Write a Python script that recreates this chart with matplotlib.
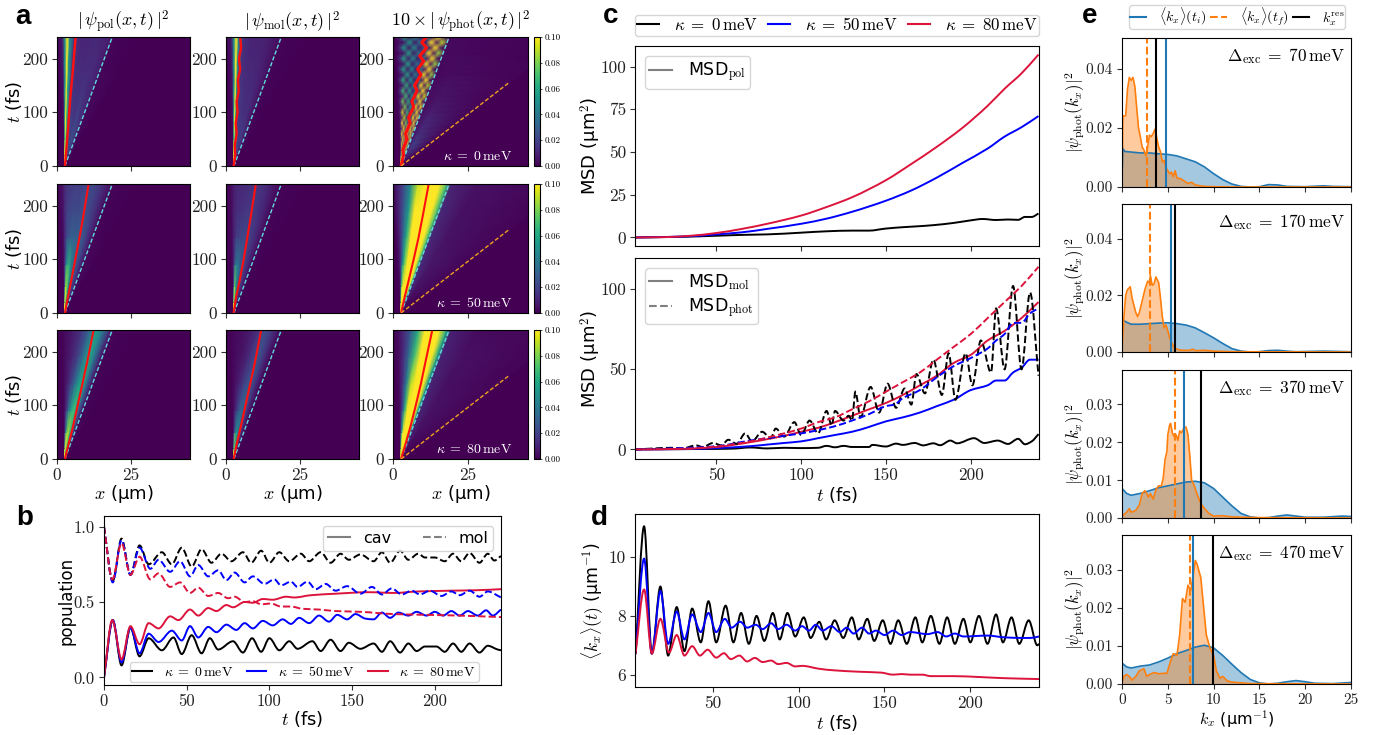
import numpy as np
import matplotlib
matplotlib.use('Agg')
import matplotlib.pyplot as plt
from matplotlib.path import Path
from matplotlib.patches import PathPatch
from matplotlib.lines import Line2D
import logging
logging.getLogger('matplotlib').setLevel(logging.ERROR)

plt.rcParams['mathtext.fontset'] = 'cm'
plt.rcParams['font.family'] = ['DejaVu Sans']
W, H = 1380, 735

# ---------- panel a: heat maps in thousandths, rows=time, columns=fan position ----------
FAN_T = [0, 20, 50, 90, 140, 190, 240]
FAN_U = [-.2, -.06, 0, .05, .1, .2, .35, .5, .65, .8, .95, 1.05, 1.6, 3.5]
X0 = 2.7
CYAN_END = 18.7
TIME_MAX = 240
POL_0 = [[0, 40, 100, 100, 100, 90, 70, 40, 20, 10, 5, 3, 0, 0],
         [0, 10, 90, 100, 100, 60, 30, 25, 20, 15, 12, 5, 0, 0],
         [0, 3, 70, 100, 70, 25, 25, 20, 25, 20, 15, 3, 0, 0],
         [0, 3, 60, 100, 70, 20, 18, 15, 20, 15, 12, 2, 0, 0],
         [0, 4, 50, 100, 60, 18, 14, 14, 15, 12, 10, 2, 0, 0],
         [0, 5, 50, 100, 55, 15, 12, 12, 12, 12, 8, 1, 0, 0],
         [0, 6, 50, 100, 50, 15, 10, 10, 12, 10, 8, 1, 0, 0]]
MOL_0 = [[0, 40, 100, 100, 100, 90, 70, 40, 20, 10, 5, 3, 0, 0],
         [0, 10, 90, 100, 100, 55, 30, 22, 16, 12, 8, 3, 0, 0],
         [0, 3, 70, 100, 65, 22, 20, 18, 18, 14, 8, 2, 0, 0],
         [0, 3, 60, 100, 60, 18, 16, 14, 14, 10, 6, 1, 0, 0],
         [0, 4, 50, 100, 50, 16, 13, 12, 12, 9, 5, 1, 0, 0],
         [0, 5, 50, 100, 45, 14, 11, 11, 10, 8, 4, 1, 0, 0],
         [0, 6, 50, 100, 45, 14, 10, 9, 9, 7, 4, 1, 0, 0]]
POL_50 = [[0, 30, 100, 100, 100, 90, 70, 40, 20, 10, 5, 2, 0, 0],
          [0, 5, 60, 100, 100, 80, 50, 30, 20, 15, 8, 2, 0, 0],
          [0, 3, 30, 70, 90, 80, 50, 30, 22, 15, 8, 2, 0, 0],
          [0, 3, 15, 30, 55, 65, 45, 30, 25, 15, 7, 2, 0, 0],
          [0, 3, 12, 20, 25, 30, 30, 30, 25, 15, 6, 1, 0, 0],
          [0, 4, 12, 18, 20, 22, 22, 25, 20, 14, 5, 1, 0, 0],
          [0, 4, 12, 15, 16, 18, 18, 22, 20, 13, 5, 1, 0, 0]]
MOL_50 = [[0, 30, 100, 100, 100, 90, 70, 40, 20, 10, 5, 2, 0, 0],
          [0, 5, 60, 100, 100, 70, 40, 25, 16, 10, 5, 1, 0, 0],
          [0, 3, 30, 70, 80, 55, 35, 22, 16, 10, 5, 1, 0, 0],
          [0, 3, 14, 25, 40, 40, 30, 22, 16, 10, 4, 1, 0, 0],
          [0, 3, 10, 14, 18, 20, 22, 20, 16, 10, 4, 1, 0, 0],
          [0, 3, 9, 11, 13, 14, 16, 17, 14, 9, 3, 1, 0, 0],
          [0, 3, 8, 10, 11, 11, 13, 15, 13, 8, 3, 1, 0, 0]]
PHOT_50 = [[0, 30, 100, 100, 100, 100, 100, 80, 60, 40, 25, 8, 1, 0],
           [0, 10, 60, 100, 100, 100, 100, 100, 100, 90, 50, 10, 2, 0],
           [0, 8, 30, 60, 90, 100, 120, 120, 120, 110, 70, 12, 5, 1],
           [0, 8, 20, 35, 55, 80, 120, 140, 140, 130, 70, 12, 6, 1],
           [0, 8, 18, 28, 40, 65, 110, 150, 150, 140, 70, 11, 5, 1],
           [0, 10, 18, 25, 35, 55, 100, 160, 170, 150, 70, 11, 4, 1],
           [0, 10, 16, 22, 30, 48, 90, 160, 180, 150, 70, 10, 4, 1]]
POL_80 = [[0, 30, 100, 100, 100, 90, 70, 40, 20, 10, 5, 2, 0, 0],
          [0, 3, 40, 80, 100, 100, 80, 60, 40, 25, 10, 3, 0, 0],
          [0, 1, 12, 30, 50, 80, 90, 70, 45, 25, 10, 2, 0, 0],
          [0, 1, 5, 10, 18, 40, 60, 70, 50, 25, 8, 1, 0, 0],
          [0, 1, 4, 7, 10, 18, 35, 55, 60, 30, 8, 1, 0, 0],
          [0, 1, 3, 5, 6, 10, 20, 40, 60, 35, 8, 1, 0, 0],
          [0, 1, 3, 4, 5, 8, 15, 30, 55, 40, 12, 1, 0, 0]]
MOL_80 = [[0, 30, 100, 100, 100, 90, 70, 40, 20, 10, 5, 2, 0, 0],
          [0, 3, 40, 75, 90, 80, 55, 35, 20, 12, 5, 1, 0, 0],
          [0, 1, 10, 22, 35, 50, 50, 35, 20, 10, 4, 1, 0, 0],
          [0, 1, 4, 7, 12, 22, 32, 32, 20, 10, 3, 0, 0, 0],
          [0, 1, 3, 5, 6, 10, 18, 26, 24, 12, 3, 0, 0, 0],
          [0, 1, 2, 3, 4, 5, 10, 18, 25, 14, 3, 0, 0, 0],
          [0, 1, 2, 3, 3, 4, 7, 13, 24, 16, 4, 0, 0, 0]]
PHOT_80 = [[0, 30, 100, 100, 100, 100, 100, 80, 60, 40, 25, 8, 1, 0],
           [0, 5, 50, 90, 100, 110, 110, 100, 90, 70, 40, 10, 2, 0],
           [0, 3, 20, 40, 65, 110, 130, 130, 120, 100, 50, 10, 4, 1],
           [0, 3, 10, 18, 30, 65, 120, 150, 150, 120, 55, 10, 5, 1],
           [0, 3, 9, 14, 22, 45, 90, 160, 170, 140, 55, 10, 4, 1],
           [0, 3, 8, 12, 18, 35, 70, 140, 180, 150, 60, 9, 4, 1],
           [0, 3, 8, 11, 15, 28, 60, 120, 190, 160, 60, 9, 3, 1]]
# the interference pattern of the photonic panel at kappa = 0 (rows every 10 fs)
CHECK_T = [0, 10, 20, 30, 40, 50, 60, 70, 80, 90, 100, 110, 120, 130, 140, 150, 160, 170, 180, 190, 200, 210, 220, 230, 240]
CHECK_U = [-.14, -.04, .06, .18, .3, .42, .54, .66, .78, .9, 1.02, 1.5, 3.5]
PHOT_0 = [[0, 100, 100, 100, 100, 100, 100, 100, 100, 60, 30, 2, 0],
          [0, 60, 160, 160, 160, 160, 160, 140, 110, 70, 25, 5, 0],
          [0, 20, 170, 30, 190, 30, 190, 30, 190, 30, 12, 10, 0],
          [0, 10, 15, 190, 15, 190, 15, 190, 15, 160, 8, 16, 0],
          [0, 15, 170, 10, 160, 12, 160, 12, 190, 12, 6, 18, 1],
          [0, 8, 10, 160, 10, 130, 10, 190, 10, 140, 6, 16, 1],
          [0, 15, 140, 8, 110, 8, 120, 10, 190, 10, 5, 14, 1],
          [0, 6, 8, 110, 8, 100, 8, 190, 8, 130, 5, 12, 1],
          [0, 15, 110, 7, 80, 8, 80, 8, 200, 8, 4, 11, 1],
          [0, 5, 8, 90, 7, 70, 7, 180, 7, 120, 4, 10, 1],
          [0, 14, 95, 7, 70, 7, 70, 7, 200, 7, 4, 8, 1],
          [0, 4, 7, 80, 6, 60, 6, 170, 6, 100, 3, 7, 1],
          [0, 14, 80, 6, 65, 6, 55, 7, 200, 6, 3, 6, 1],
          [0, 4, 7, 70, 6, 55, 6, 160, 6, 95, 3, 5, 1],
          [0, 14, 70, 6, 60, 6, 50, 6, 200, 5, 3, 5, 1],
          [0, 3, 6, 65, 5, 50, 5, 150, 5, 90, 3, 4, 1],
          [0, 13, 65, 5, 55, 5, 45, 5, 190, 5, 2, 4, 1],
          [0, 3, 6, 60, 5, 45, 5, 140, 5, 85, 2, 3, 1],
          [0, 12, 60, 5, 50, 5, 40, 5, 190, 5, 2, 3, 1],
          [0, 3, 5, 60, 5, 40, 5, 130, 5, 85, 2, 3, 1],
          [0, 11, 60, 5, 50, 5, 40, 5, 190, 5, 2, 3, 0],
          [0, 3, 5, 60, 5, 40, 5, 130, 5, 85, 2, 2, 0],
          [0, 10, 55, 5, 50, 5, 40, 5, 190, 5, 2, 2, 0],
          [0, 3, 5, 55, 5, 40, 5, 130, 5, 90, 2, 2, 0],
          [0, 9, 55, 5, 50, 5, 40, 5, 190, 5, 2, 2, 0]]
# red mean-position traces (t, x)
RED_POL_0 = [(0, 2.7), (60, 3.6), (120, 4.4), (180, 5.4), (240, 6.3)]
RED_MOL_0 = [(0, 2.6), (20, 3.1), (40, 3.0), (60, 3.6), (80, 3.3), (100, 3.9), (120, 3.6), (140, 4.3), (160, 4.0), (180, 4.8), (200, 4.4), (220, 5.1), (240, 4.8)]
RED_PHOT_0 = [(0, 2.7), (20, 3.5), (30, 3.3), (50, 4.6), (60, 4.2), (80, 5.7), (90, 5.2), (110, 6.9), (120, 6.3), (140, 8.0), (150, 7.2), (170, 9.3), (180, 8.2), (195, 10.2), (205, 8.9), (220, 11.2), (230, 9.6), (240, 11.2)]
RED_POL_50 = [(0, 2.7), (30, 3.7), (60, 4.8), (100, 6.2), (140, 7.6), (180, 8.9), (240, 10.7)]
RED_MOL_50 = [(0, 2.6), (30, 3.4), (60, 4.6), (100, 6.0), (140, 7.2), (180, 8.4), (240, 10.1)]
RED_PHOT_50 = [(0, 2.7), (30, 3.9), (60, 5.2), (100, 6.9), (140, 8.5), (180, 9.9), (240, 11.9)]
RED_POL_80 = [(0, 2.7), (30, 4.0), (60, 5.4), (100, 7.0), (140, 8.6), (180, 10.2), (240, 12.4)]
RED_MOL_80 = [(0, 2.6), (30, 3.7), (60, 5.0), (100, 6.6), (140, 8.2), (180, 9.8), (240, 11.9)]
RED_PHOT_80 = [(0, 2.7), (30, 4.3), (60, 5.8), (100, 7.6), (140, 9.3), (180, 10.8), (240, 13.1)]
ORANGE_END = (38.4, 154)
A_TITLES = [r'$|\,\psi_{\mathrm{pol}}(x,t)\,|^2$', r'$|\,\psi_{\mathrm{mol}}(x,t)\,|^2$', r'$10\times|\,\psi_{\mathrm{phot}}(x,t)\,|^2$']
KAPPAS = [r'$\kappa\;=\;0\,\mathrm{meV}$', r'$\kappa\;=\;50\,\mathrm{meV}$', r'$\kappa\;=\;80\,\mathrm{meV}$']
COLORS = ['black', '#0000ff', '#dc143c']

# ---------- panel b ----------
B_CAV_0 = [(0, 0), (5.3, .38), (10.6, .08), (16, .33), (21.5, .14), (27, .26), (35, .18), (42, .265), (47, .155), (53, .28), (59, .16), (64, .26), (69, .185), (78, .24), (84, .165), (89.5, .26), (95, .17), (100, .26), (106, .18), (112, .24), (117, .19), (126, .24), (131, .175), (137, .25), (143, .175), (148, .23), (155, .19), (163, .225), (168, .17), (173, .24), (179, .165), (184, .225), (189, .175), (194, .205), (201, .205), (206, .17), (211, .225), (216, .17), (221, .225), (227, .165), (232, .21), (238, .185), (240, .18)]
B_MOL_0 = [(0, 1.0), (5.3, .64), (10.6, .92), (16, .68), (21.5, .875), (27, .75), (35, .83), (41, .75), (47, .86), (53, .735), (59, .85), (65, .76), (71, .82), (77, .77), (84, .83), (89, .76), (95, .84), (100, .76), (106, .83), (112, .77), (119, .82), (124, .77), (131, .83), (137, .76), (143, .82), (148, .78), (155, .815), (163, .77), (168, .83), (173, .76), (179, .84), (184, .78), (190, .82), (194, .795), (200, .795), (206, .77), (211, .82), (216, .77), (221, .825), (227, .76), (232, .82), (236, .775), (240, .805)]
B_CAV_50 = [(0, 0), (5.3, .38), (10.6, .1), (16, .33), (21.5, .16), (27, .29), (33, .235), (41, .31), (47, .245), (52, .34), (57, .265), (63, .335), (68, .3), (74, .35), (80, .315), (85, .36), (90, .325), (96, .375), (102, .345), (108, .385), (113, .355), (118, .395), (124, .36), (130, .41), (136, .37), (141, .415), (147, .385), (152, .42), (158, .39), (163, .385), (168, .43), (173, .395), (178, .43), (184, .41), (189, .435), (195, .41), (200, .435), (205, .41), (210, .44), (215, .41), (220, .44), (226, .41), (231, .445), (235, .41), (240, .45)]
B_MOL_50 = [(0, 1.0), (5.3, .63), (10.6, .91), (16, .68), (21.5, .86), (28, .72), (33, .78), (40, .70), (46, .77), (52, .67), (57, .745), (63, .67), (69, .71), (74, .645), (79, .695), (85, .63), (90, .67), (97, .62), (103, .65), (107, .61), (113, .635), (117, .60), (123, .635), (128, .585), (134, .62), (140, .575), (147, .605), (155, .555), (162, .60), (168, .55), (174, .59), (180, .55), (186, .575), (191, .55), (197, .575), (204, .54), (210, .57), (215, .545), (221, .575), (227, .535), (232, .57), (240, .53)]
B_CAV_80 = [(0, 0), (5, .38), (10.6, .12), (16, .34), (21.5, .22), (27, .36), (33, .325), (40, .405), (45, .38), (52, .45), (57, .41), (63, .46), (68, .44), (74, .48), (78, .465), (85, .50), (90, .495), (96, .52), (102, .515), (110, .535), (115, .53), (125, .545), (140, .555), (160, .565), (175, .56), (190, .57), (210, .575), (225, .578), (240, .585)]
B_MOL_80 = [(0, 1.0), (5, .65), (10.6, .89), (16, .68), (21.5, .80), (28, .65), (33, .69), (40, .60), (46, .63), (52, .56), (57, .595), (63, .54), (69, .56), (75, .525), (79, .535), (85, .50), (90, .505), (95, .485), (101, .49), (107, .47), (113, .47), (120, .455), (130, .45), (140, .44), (155, .435), (175, .42), (195, .415), (215, .41), (240, .40)]

# ---------- panel c ----------
C_POL_0 = [(2, 0), (30, .4), (50, 1), (65, 1.5), (80, 1.8), (100, 2.8), (115, 3.6), (130, 4), (140, 4), (150, 5.2), (160, 6), (170, 6.6), (178, 7.2), (190, 8.5), (200, 10), (207, 10.8), (215, 10.2), (222, 10.5), (228, 10.3), (232, 12), (236, 12), (240, 14)]
C_POL_50 = [(2, 0), (30, .5), (50, 1.8), (65, 3), (80, 5), (100, 8), (115, 11), (130, 15), (150, 21.5), (165, 27.5), (180, 35), (195, 43.5), (210, 52), (220, 59), (230, 64.5), (240, 71)]
C_POL_80 = [(2, 0), (20, .2), (35, 1), (50, 2.6), (65, 5), (80, 8), (100, 12.8), (115, 17.8), (130, 23.5), (150, 33.5), (165, 43), (180, 53), (195, 64), (210, 77), (220, 87), (230, 96), (240, 107)]
C_MOL_0 = [(2, 0), (50, .3), (60, .5), (70, 1.2), (80, .6), (90, 1), (100, .8), (110, 1), (115, 2.2), (120, 1.3), (125, 2.2), (130, 1.5), (140, 1.5), (142, 2.8), (150, 1.8), (156, 3.6), (160, 2.8), (167, 4), (172, 2.5), (178, 3.8), (182, 2.6), (188, 5.5), (192, 3.8), (202, 7), (208, 4), (216, 5.5), (222, 3.4), (228, 6.6), (232, 3.2), (236, 5), (240, 9.5)]
C_PHOT_0 = [(2, 0), (25, 1), (30, .6), (38, 2.5), (42, 1.5), (48, 4), (53, 2.5), (57, 6), (62, 3.5), (67, 10), (71, 5), (77, 11), (82, 7), (85, 13), (90, 8), (96, 17), (100, 9), (105, 18), (110, 10), (115, 24), (118, 15), (120, 24), (125, 18), (128, 21), (130, 18), (132, 36), (135, 20), (141, 39), (146, 23), (151, 41), (156, 26), (161, 38), (165, 28), (168, 47), (173, 35), (178, 56), (183, 34), (187, 60), (191, 31), (197, 60), (201, 40), (206, 68), (212, 48), (215, 88), (220, 50), (225, 102), (230, 50), (235, 98), (240, 46)]
C_MOL_50 = [(2, 0), (30, .2), (50, .8), (70, 2), (80, 3), (90, 4), (100, 5), (110, 7), (120, 9), (130, 11), (140, 14), (150, 17.5), (160, 20), (170, 23), (180, 27), (190, 31), (200, 37), (210, 40), (215, 43), (220, 43), (225, 48), (230, 51), (235, 56), (240, 56)]
C_PHOT_50 = [(2, 0), (30, .8), (50, 2), (70, 5.5), (90, 8.5), (100, 10), (110, 12), (120, 14.5), (130, 18), (140, 22), (150, 27), (155, 28), (160, 32), (170, 37), (180, 45), (190, 52), (200, 57), (210, 63), (215, 68), (220, 72), (225, 79), (230, 79), (235, 85), (240, 88)]
C_MOL_80 = [(2, 0), (30, .3), (50, 1.5), (70, 4.5), (90, 8.5), (100, 11), (110, 13.5), (120, 17), (130, 21), (140, 25), (150, 29), (160, 34), (170, 40), (180, 46), (190, 54), (200, 59), (210, 68), (220, 74), (230, 82), (240, 92)]
C_PHOT_80 = [(2, 0), (30, .4), (50, 1.8), (70, 5), (90, 10), (100, 13), (110, 17), (120, 20), (130, 25), (140, 30), (150, 36), (160, 42), (170, 48), (180, 56), (190, 64), (200, 72), (210, 82), (220, 92), (230, 102), (240, 114)]

# ---------- panel d ----------
D_0 = [(5, 6.7), (10, 11.05), (14.5, 6.72), (19.5, 9.0), (24, 6.65), (29, 8.3), (33.5, 6.8), (38, 8.25), (43, 7.1), (47.5, 8.5), (52, 7.1), (57.5, 8.35), (62, 7.1), (66.5, 8.1), (71, 7.05), (75.5, 8.0), (80, 7.15), (85, 8.1), (89, 7.2), (93.5, 8.1), (98, 7.3), (103, 7.95), (107, 7.25), (112, 7.8), (116, 7.2), (121, 7.85), (126, 7.25), (131, 7.95), (135, 7.2), (140, 7.9), (144, 7.15), (149, 7.85), (153.5, 7.05), (158, 7.85), (163, 7.05), (168, 7.95), (172, 7.1), (177, 8.0), (182, 7.05), (186.5, 7.95), (191, 7.05), (196, 7.9), (200, 7.1), (205, 8.0), (210, 7.05), (215, 8.05), (219, 7.1), (224, 7.95), (228.5, 7.05), (234, 7.85), (239, 7.0), (240, 7.05)]
D_50 = [(5, 6.7), (10, 9.95), (14.5, 6.72), (19.5, 8.85), (24, 7.05), (29, 8.15), (33.5, 7.2), (38, 8.05), (43, 7.45), (47.5, 8.1), (52, 7.45), (57, 7.9), (61, 7.6), (66, 7.8), (70, 7.6), (75, 7.7), (79, 7.55), (84, 7.75), (88, 7.55), (93, 7.7), (98, 7.5), (102, 7.65), (106, 7.5), (110, 7.7), (114, 7.5), (119, 7.65), (124, 7.45), (128, 7.6), (132, 7.4), (137, 7.6), (141, 7.4), (145, 7.5), (150, 7.35), (155, 7.5), (160, 7.35), (165, 7.45), (175, 7.38), (181, 7.45), (186, 7.3), (191, 7.4), (196, 7.3), (210, 7.33), (220, 7.27), (230, 7.25), (235, 7.25), (240, 7.3)]
D_80 = [(5, 6.7), (10, 8.9), (14.5, 6.72), (19.5, 7.9), (24.5, 6.75), (29, 7.35), (33.5, 6.65), (38, 6.97), (42.5, 6.65), (47, 6.85), (52, 6.58), (56.5, 6.73), (60.5, 6.53), (65.5, 6.65), (70, 6.45), (74.5, 6.57), (79, 6.43), (84, 6.48), (88, 6.36), (93, 6.4), (98, 6.28), (102, 6.3), (112, 6.2), (120, 6.15), (135, 6.1), (148, 6.07), (155, 6.0), (160, 6.02), (165, 6.0), (172, 6.0), (177, 5.95), (190, 5.95), (205, 5.92), (220, 5.88), (240, 5.85)]

# ---------- panel e ----------
E_LABELS = [r'$\Delta_{\mathrm{exc}}\;=\;70\,\mathrm{meV}$', r'$\Delta_{\mathrm{exc}}\;=\;170\,\mathrm{meV}$', r'$\Delta_{\mathrm{exc}}\;=\;370\,\mathrm{meV}$', r'$\Delta_{\mathrm{exc}}\;=\;470\,\mathrm{meV}$']
E_YMAX = [.0503, .0522, .0391, .0392]
E_YTICKS = [[0, .02, .04], [0, .02, .04], [0, .01, .02, .03], [0, .01, .02, .03]]
E_YTICKLABELS = [['0.00', '0.02', '0.04'], ['0.00', '0.02', '0.04'], ['0.00', '0.01', '0.02', '0.03'], ['0.00', '0.01', '0.02', '0.03']]
E_KI = [4.8, 5.33, 6.75, 7.7]
E_KF = [2.7, 3.07, 5.84, 7.45]
E_KRES = [3.72, 5.77, 8.65, 9.9]
E_BLUE_1 = [(0, .004), (.1, .013), (.3, .012), (1, .0118), (2, .0115), (3, .0115), (4, .0112), (5, .011), (6, .0105), (7, .0095), (8, .0085), (9, .0068), (10, .0045), (11, .0025), (12, .001), (13, .0002), (14, 0), (15, .0001), (16, .0008), (17, .0007), (18, .0002), (20, .0001), (22, .0004), (23, .0002), (25, .0001)]
E_BLUE_2 = [(0, .0115), (.5, .0105), (1, .0098), (2, .0098), (3, .01), (4, .0102), (5, .0103), (6, .01), (7, .0095), (8, .0085), (9, .0068), (10, .005), (11, .003), (12, .0012), (13, .0003), (14, 0), (15, .0001), (16, .0005), (17, .0006), (18, .0003), (19, .0001), (22, .0003), (25, .0001)]
E_BLUE_3 = [(0, .0078), (.5, .0065), (1, .006), (2, .0065), (3, .0072), (4, .008), (5, .0085), (6, .009), (7, .0095), (8, .0097), (9, .0093), (10, .0078), (11, .0055), (12, .0032), (13, .0012), (14, .0003), (15, 0), (16, .0001), (17, .0005), (18, .0008), (19, .0005), (20, .0002), (22, .0002), (24, .0005), (25, .0004)]
E_BLUE_4 = [(0, .0055), (.5, .0045), (1, .0042), (2, .0047), (3, .005), (4, .0058), (5, .0068), (6, .008), (7, .0088), (8, .0097), (9, .0102), (10, .0095), (11, .0075), (12, .0052), (13, .003), (14, .0012), (15, .0003), (16, 0), (17, .0002), (18, .0006), (19, .0009), (20, .0006), (21, .0002), (23, .0001), (25, .0004)]
E_ORANGE_1 = [(0, .004), (.1, .024), (.4, .024), (.6, .033), (.8, .037), (1, .036), (1.2, .037), (1.4, .034), (1.6, .027), (1.8, .02), (2, .017), (2.2, .0135), (2.4, .0125), (2.6, .0105), (2.8, .0135), (3, .0175), (3.2, .017), (3.4, .018), (3.6, .0195), (3.8, .0165), (4, .0135), (4.2, .012), (4.4, .0085), (4.6, .009), (4.8, .0065), (5, .0055), (5.2, .0045), (5.4, .005), (5.6, .0035), (5.8, .0055), (6, .003), (6.4, .0028), (6.8, .002), (7.2, .0012), (7.6, .0016), (8, .0007), (8.5, .0004), (9, .0002), (10, .0001), (12, 0), (25, 0)]
E_ORANGE_2 = [(0, .001), (.2, .012), (.4, .02), (.6, .022), (.9, .023), (1.1, .019), (1.3, .0165), (1.5, .014), (1.7, .0125), (1.9, .014), (2.2, .018), (2.5, .022), (2.8, .025), (3, .0245), (3.1, .027), (3.3, .0235), (3.5, .024), (3.7, .0265), (4, .0245), (4.2, .019), (4.4, .0125), (4.6, .0085), (4.8, .0095), (5, .0075), (5.2, .005), (5.4, .0035), (5.6, .002), (5.8, .0012), (6.5, .0006), (7.4, .0006), (7.7, .001), (8, .0005), (9, .0006), (10, .0003), (12, .0001), (25, 0)]
E_ORANGE_3 = [(0, .0005), (.5, .0015), (.8, .0025), (1, .0015), (1.5, .002), (1.9, .0035), (2.2, .0065), (2.5, .0072), (2.7, .0065), (2.9, .0055), (3.1, .0065), (3.4, .005), (3.7, .0075), (4, .0085), (4.3, .0085), (4.5, .0105), (4.7, .0155), (4.9, .0175), (5, .022), (5.2, .0245), (5.3, .025), (5.5, .0225), (5.7, .0215), (5.9, .022), (6.1, .0205), (6.3, .023), (6.5, .0225), (6.8, .024), (7, .024), (7.2, .022), (7.4, .0165), (7.6, .01), (7.9, .0085), (8.1, .007), (8.4, .005), (8.7, .0035), (9, .0025), (9.5, .0012), (10, .0005), (11, .0006), (12, .0003), (13, .0002), (15, .0001), (25, 0)]
E_ORANGE_4 = [(0, .0003), (.2, .002), (.5, .0025), (.8, .002), (1.1, .001), (1.5, .002), (1.9, .0035), (2.4, .004), (2.7, .002), (3, .0025), (3.5, .003), (4, .0027), (4.5, .0028), (4.9, .0028), (5.3, .006), (5.6, .008), (6, .0075), (6.3, .013), (6.6, .0225), (6.9, .0215), (7.2, .026), (7.5, .0245), (7.8, .029), (8, .0325), (8.2, .0315), (8.6, .028), (8.9, .0205), (9.2, .013), (9.6, .0095), (10, .0075), (10.3, .0035), (10.7, .0015), (11, .002), (11.5, .0008), (12, .0005), (13, .0003), (14, .0001), (25, 0)]


def axpx(l, t, r, b):
    return fig.add_axes([l / W, 1 - b / H, (r - l) / W, (b - t) / H])


def curve(ax, pts, color, lw=1.4, ls='-', **kw):
    """Draw read points as a smooth monotone curve (extrema stay extrema)."""
    t = np.array([p[0] for p in pts], float)
    y = np.array([p[1] for p in pts], float)
    h = np.diff(t)
    d = np.diff(y) / h
    m = np.zeros_like(y)
    m[0], m[-1] = d[0], d[-1]
    for i in range(1, len(y) - 1):
        if d[i - 1] * d[i] > 0:
            m[i] = 2 * d[i - 1] * d[i] / (d[i - 1] + d[i])
    verts, codes = [(t[0], y[0])], [Path.MOVETO]
    for i in range(len(h)):
        verts += [(t[i] + h[i] / 3, y[i] + m[i] * h[i] / 3),
                  (t[i + 1] - h[i] / 3, y[i + 1] - m[i + 1] * h[i] / 3),
                  (t[i + 1], y[i + 1])]
        codes += [Path.CURVE4] * 3
    ax.add_patch(PathPatch(Path(verts, codes), fill=False, edgecolor=color, lw=lw, ls=ls, **kw))


def cm_ticks(ax, size):
    ax.tick_params(labelsize=size, length=3.5, width=.8, pad=3, color='#333333')
    for lab in ax.get_xticklabels() + ax.get_yticklabels():
        lab.set_fontfamily('cmr10')
        lab.set_color('#222222')


def proxy(color, ls='-', lw=1.5):
    return Line2D([], [], color=color, ls=ls, lw=lw)


fig = plt.figure(figsize=(W / 100, H / 100), dpi=100)

# ---------- draw a ----------
COL_X = [(57, 190), (226, 359), (393, 528)]
ROW_Y = [(37, 166), (184, 313), (330, 459)]
TABLES = [[POL_0, MOL_0, PHOT_0], [POL_50, MOL_50, PHOT_50], [POL_80, MOL_80, PHOT_80]]
REDS = [[RED_POL_0, RED_MOL_0, RED_PHOT_0], [RED_POL_50, RED_MOL_50, RED_PHOT_50], [RED_POL_80, RED_MOL_80, RED_PHOT_80]]
cmap = plt.get_cmap('viridis')
for r, (top, bot) in enumerate(ROW_Y):
    for c, (lft, rgt) in enumerate(COL_X):
        ax = axpx(lft, top, rgt, bot)
        ax.set_facecolor(cmap(0.0))
        tab = np.array(TABLES[r][c], float) / 1000
        if tab.shape[0] == len(CHECK_T):
            tt, uu = np.array(CHECK_T, float), np.array(CHECK_U)
        else:
            tt, uu = np.array(FAN_T, float), np.array(FAN_U)
        xm = X0 + uu[None, :] * ((CYAN_END - X0) / TIME_MAX * tt[:, None])
        ym = np.repeat(tt[:, None], len(uu), axis=1)
        qm = ax.pcolormesh(xm, ym, tab, shading='gouraud', cmap=cmap, vmin=0, vmax=.1)
        ax.plot([X0, CYAN_END], [0, TIME_MAX], color='#60dcdc', lw=1.0, ls=(0, (3, 1.5)))
        rr = REDS[r][c]
        ax.plot([p[1] for p in rr], [p[0] for p in rr], color='#ff1010', lw=1.5 if r else (2.2 if c == 2 else 1.7))
        if c == 2:
            ax.plot([X0, ORANGE_END[0]], [0, ORANGE_END[1]], color='#f0a020', lw=1.0, ls=(0, (3, 1.5)))
            ax.text(.885, .075, KAPPAS[r], transform=ax.transAxes, color='white', ha='right', va='center', fontsize=10)
            cax = axpx(534, top, 540, bot)
            cb = fig.colorbar(qm, cax=cax)
            cb.set_ticks([0, .02, .04, .06, .08, .1])
            cb.set_ticklabels(['0.00', '0.02', '0.04', '0.06', '0.08', '0.10'])
            cax.tick_params(labelsize=6.5, length=1.5, width=.5, pad=1.5)
            for lab in cax.get_yticklabels():
                lab.set_fontfamily('cmr10')
        ax.set_xlim(0, 45)
        ax.set_ylim(0, 240)
        ax.set_xticks([0, 25])
        ax.set_yticks([0, 100, 200])
        if r < 2:
            ax.set_xticklabels([])
        else:
            ax.set_xlabel(r'$x$ (μm)', fontsize=13, labelpad=0)
        if c == 0:
            ax.set_ylabel(r'$t$ (fs)', fontsize=13, labelpad=-1.5)
        if r == 0:
            ax.set_title(A_TITLES[c], fontsize=13, pad=7)
        cm_ticks(ax, 12.5)

# ---------- draw b ----------
ax = axpx(104, 516, 501, 685)
for pts, col in zip([B_CAV_0, B_CAV_50, B_CAV_80], COLORS):
    curve(ax, pts, col)
for pts, col in zip([B_MOL_0, B_MOL_50, B_MOL_80], COLORS):
    curve(ax, pts, col, ls='--')
ax.set_xlim(0, 240)
ax.set_ylim(-.05, 1.07)
ax.set_xticks([0, 50, 100, 150, 200])
ax.set_yticks([0, .5, 1])
ax.set_yticklabels(['0.0', '0.5', '1.0'])
ax.set_xlabel(r'$t$ (fs)', fontsize=13, labelpad=0)
ax.set_ylabel('population', fontsize=12, labelpad=-1)
cm_ticks(ax, 12)
l1 = ax.legend([proxy('gray'), proxy('gray', '--')], ['cav', 'mol'], ncol=2, loc='upper right', fontsize=11.5,
               bbox_to_anchor=(.98, .94), borderaxespad=0, columnspacing=2.0, handlelength=1.4, handletextpad=.8, borderpad=.3)
ax.add_artist(l1)
ax.legend([proxy(c) for c in COLORS], KAPPAS, ncol=3, loc='lower center', fontsize=10,
          bbox_to_anchor=(.504, .02), borderaxespad=0, columnspacing=1.0, handlelength=1.4, handletextpad=.85, borderpad=.2, labelspacing=.2)

# ---------- draw c ----------
ax = axpx(635, 46, 1039, 246)
for pts, col in zip([C_POL_0, C_POL_50, C_POL_80], COLORS):
    curve(ax, pts, col)
ax.set_xlim(2, 240.3)
ax.set_ylim(-5, 112)
ax.set_xticks([50, 100, 150, 200])
ax.set_xticklabels([])
ax.set_yticks([0, 25, 50, 75, 100])
ax.set_ylabel(r'MSD (μm$^2$)', fontsize=13, labelpad=-2)
cm_ticks(ax, 12.5)
l2 = ax.legend([proxy('gray')], [r'MSD$_{\mathrm{pol}}$'], loc='upper left', fontsize=12.5,
               bbox_to_anchor=(.025, .95), borderaxespad=0, handlelength=1.3, handletextpad=.9, borderpad=.25)
ax.add_artist(l2)
top_legend = ax.legend([proxy(c) for c in COLORS], KAPPAS, ncol=3, loc='lower left', mode='expand', fontsize=12.2,
                       bbox_to_anchor=(0, 1.05, 1, .1), borderaxespad=0, handlelength=1.3, handletextpad=.9, borderpad=.1)

ax = axpx(635, 258, 1039, 459)
for pts, col in zip([C_MOL_0, C_MOL_50, C_MOL_80], COLORS):
    curve(ax, pts, col)
for pts, col in zip([C_PHOT_0, C_PHOT_50, C_PHOT_80], COLORS):
    curve(ax, pts, col, ls='--')
ax.set_xlim(2, 240.3)
ax.set_ylim(-6, 119.5)
ax.set_xticks([50, 100, 150, 200])
ax.set_yticks([0, 50, 100])
ax.set_xlabel(r'$t$ (fs)', fontsize=13, labelpad=1)
ax.set_ylabel(r'MSD (μm$^2$)', fontsize=13, labelpad=-2)
cm_ticks(ax, 12.5)
ax.legend([proxy('gray'), proxy('gray', '--')], [r'MSD$_{\mathrm{mol}}$', r'MSD$_{\mathrm{phot}}$'], loc='upper left', fontsize=12.5,
          bbox_to_anchor=(.025, .95), borderaxespad=0, handlelength=1.3, handletextpad=.9, borderpad=.25, labelspacing=.2)

# ---------- draw d ----------
ax = axpx(635, 514, 1039, 687)
for pts, col in zip([D_0, D_50, D_80], COLORS):
    curve(ax, pts, col)
ax.set_xlim(4.7, 240)
ax.set_ylim(5.58, 11.47)
ax.set_xticks([50, 100, 150, 200])
ax.set_yticks([6, 8, 10])
ax.set_xlabel(r'$t$ (fs)', fontsize=13, labelpad=1)
ax.set_ylabel(r'$\langle k_x\rangle(t)$ (μm$^{-1}$)', fontsize=12.5, labelpad=2)
cm_ticks(ax, 12.5)

# ---------- draw e ----------
E_BOXES = [(38, 187), (204, 352), (370, 518), (535, 684)]
E_BLUE = [E_BLUE_1, E_BLUE_2, E_BLUE_3, E_BLUE_4]
E_ORANGE = [E_ORANGE_1, E_ORANGE_2, E_ORANGE_3, E_ORANGE_4]
for i, (top, bot) in enumerate(E_BOXES):
    ax = axpx(1122, top, 1351, bot)
    kb, vb = np.array(E_BLUE[i]).T
    ko, vo = np.array(E_ORANGE[i]).T
    ax.fill_between(kb, vb, color='tab:blue', alpha=.4, lw=0)
    ax.fill_between(ko, vo, color='tab:orange', alpha=.4, lw=0)
    ax.plot(kb, vb, color='tab:blue', lw=1.2)
    ax.plot(ko, vo, color='tab:orange', lw=1.2)
    ax.axvline(E_KI[i], color='tab:blue', lw=1.5)
    ax.axvline(E_KF[i], color='tab:orange', lw=1.5, ls='--')
    ax.axvline(E_KRES[i], color='black', lw=1.5)
    ax.set_xlim(0, 25)
    ax.set_ylim(0, E_YMAX[i])
    ax.set_xticks([0, 5, 10, 15, 20, 25])
    ax.set_yticks(E_YTICKS[i])
    ax.set_yticklabels(E_YTICKLABELS[i])
    if i < 3:
        ax.set_xticklabels([])
    else:
        ax.set_xlabel(r'$k_x$ (μm$^{-1}$)', fontsize=11.5, labelpad=1)
    ax.set_ylabel(r'$|\psi_{\mathrm{phot}}(k_x)|^2$', fontsize=12, labelpad=-1)
    ax.text(.975, .88, E_LABELS[i], transform=ax.transAxes, ha='right', va='center', fontsize=12.5)
    cm_ticks(ax, 11)
    if i == 0:
        ax.legend([proxy('tab:blue'), proxy('tab:orange', '--'), proxy('black')],
                  [r'$\langle k_x\rangle(t_i)$', r'$\langle k_x\rangle(t_f)$', r'$k_x^{\mathrm{res}}$'],
                  ncol=3, loc='lower center', fontsize=10, bbox_to_anchor=(.502, 1.06), borderaxespad=0,
                  columnspacing=.3, handlelength=1.2, handletextpad=.9, borderpad=.05)

# ---------- panel letters ----------
for s, x, y in [('a', 15, 24), ('b', 16, 525), ('c', 603, 23), ('d', 591, 525), ('e', 1082, 23)]:
    fig.text(x / W, 1 - y / H, s, fontsize=20, fontweight='bold', family='Liberation Sans', ha='left', va='baseline')

fig.savefig('out.png', dpi=100)
